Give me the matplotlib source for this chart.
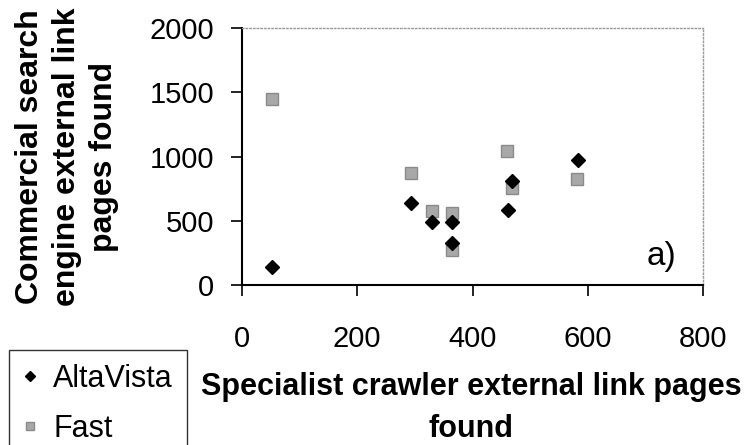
import numpy as np
import matplotlib.pyplot as plt

plt.rcParams['font.family'] = ['Liberation Sans', 'DejaVu Sans']

# Specialist crawler counts (x) against commercial engine counts (y)
altavista_x = [52, 293, 330, 365, 365, 462, 469, 583]
altavista_y = [140, 638, 490, 490, 327, 584, 809, 973]
fast_x = [52, 293, 330, 365, 365, 460, 469, 581]
fast_y = [1450, 872, 575, 560, 272, 1043, 755, 825]

xticks = [0, 200, 400, 600, 800]
yticks = [0, 500, 1000, 1500, 2000]

W, H = 755, 445
fig = plt.figure(figsize=(W / 100, H / 100), dpi=100)
ax = fig.add_axes([242 / W, 1 - 285 / H, (703 - 242) / W, (285 - 28) / H])

ax.plot(fast_x, fast_y, linestyle='none', marker='s', markersize=8,
        color='#a8a8a8', markeredgecolor='#8a8a8a', label='Fast', zorder=2)
ax.plot(altavista_x, altavista_y, linestyle='none', marker='D', markersize=7,
        color='black', label='AltaVista', zorder=3)

ax.set_xlim(0, 800)
ax.set_ylim(0, 2000)
ax.set_xticks(xticks)
ax.set_yticks(yticks)
ax.tick_params(labelsize=21, length=8, width=1.2)
ax.tick_params(axis='x', pad=21)
ax.tick_params(axis='y', pad=12)

for side in ['top', 'right']:
    ax.spines[side].set_color('#999999')
    ax.spines[side].set_linestyle(':')
    ax.spines[side].set_linewidth(1)
for side in ['left', 'bottom']:
    ax.spines[side].set_linewidth(1.5)

ax.set_xlabel('Specialist crawler external link pages\nfound', fontsize=22,
              fontweight='bold', linespacing=1.5)
ax.xaxis.set_label_coords(0.497, -0.34)
ax.set_ylabel('Commercial search\nengine external link\npages found', fontsize=23,
              fontweight='bold', linespacing=1.3)
ax.yaxis.set_label_coords(-0.267, 0.5)

ax.text(0.942, 0.05, 'a)', transform=ax.transAxes, fontsize=24,
        ha='right', va='bottom')

# legend box runs off the bottom edge like the original
handles, labels = ax.get_legend_handles_labels()
leg = fig.legend(handles[::-1], labels[::-1], loc='upper left',
                 bbox_to_anchor=(9 / W, 1 - 350 / H), fontsize=22,
                 frameon=True, fancybox=False, edgecolor='black',
                 handlelength=0.5, handletextpad=0.5, borderpad=0.45,
                 labelspacing=0.65, markerscale=0.7, borderaxespad=0)
leg.get_frame().set_linewidth(1)

fig.savefig('out.png', dpi=100)
